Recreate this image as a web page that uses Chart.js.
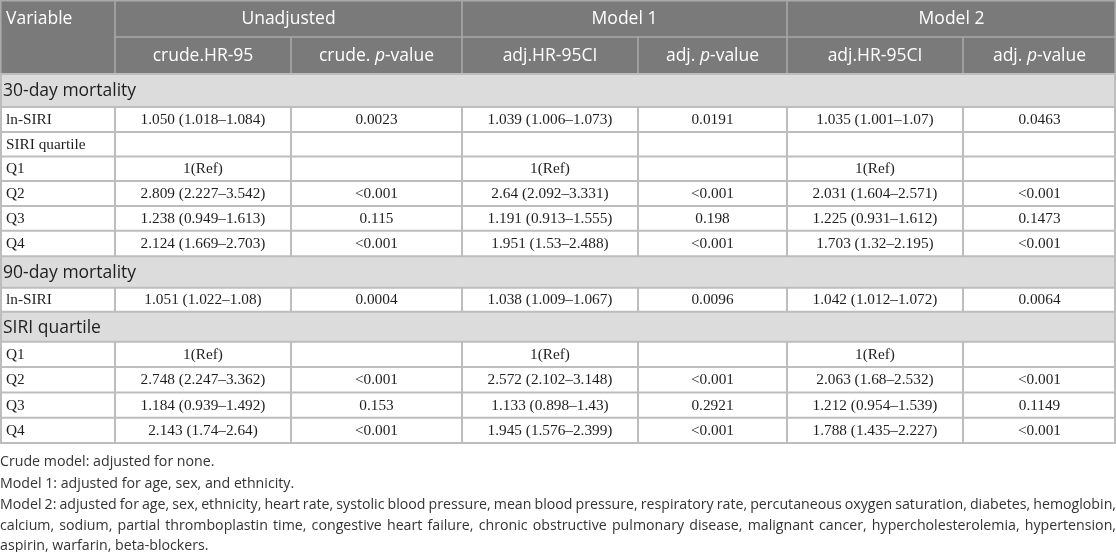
<!DOCTYPE html>
<html>
<head>
<meta charset="utf-8">
<script src="https://cdn.jsdelivr.net/npm/chart.js@4.4.1/dist/chart.umd.min.js"></script>
<style>
  html, body { margin: 0; padding: 0; background: #ffffff; }
  #wrap { width: 1116px; height: 552px; position: relative; }
</style>
</head>
<body>
<div id="wrap"><canvas id="tableChart"></canvas></div>
<script>
// table content
const groupHeaders = ['Unadjusted', 'Model 1', 'Model 2'];
const subHeaders = [
  [{ t: 'crude.HR-95' }],
  [{ t: 'crude. ' }, { t: 'p', i: true }, { t: '-value' }],
  [{ t: 'adj.HR-95CI' }],
  [{ t: 'adj. ' }, { t: 'p', i: true }, { t: '-value' }],
  [{ t: 'adj.HR-95CI' }],
  [{ t: 'adj. ' }, { t: 'p', i: true }, { t: '-value' }]
];
const rowLabels = ['30-day mortality', 'ln-SIRI', 'SIRI quartile', 'Q1', 'Q2', 'Q3', 'Q4',
  '90-day mortality', 'ln-SIRI', 'SIRI quartile', 'Q1', 'Q2', 'Q3', 'Q4'];
const sectionRows = [0, 7, 9];
const crudeHR = [null, '1.050 (1.018–1.084)', '', '1(Ref)', '2.809 (2.227–3.542)', '1.238 (0.949–1.613)', '2.124 (1.669–2.703)',
  null, '1.051 (1.022–1.08)', null, '1(Ref)', '2.748 (2.247–3.362)', '1.184 (0.939–1.492)', '2.143 (1.74–2.64)'];
const crudeP = [null, '0.0023', '', '', '<0.001', '0.115', '<0.001',
  null, '0.0004', null, '', '<0.001', '0.153', '<0.001'];
const model1HR = [null, '1.039 (1.006–1.073)', '', '1(Ref)', '2.64 (2.092–3.331)', '1.191 (0.913–1.555)', '1.951 (1.53–2.488)',
  null, '1.038 (1.009–1.067)', null, '1(Ref)', '2.572 (2.102–3.148)', '1.133 (0.898–1.43)', '1.945 (1.576–2.399)'];
const model1P = [null, '0.0191', '', '', '<0.001', '0.198', '<0.001',
  null, '0.0096', null, '', '<0.001', '0.2921', '<0.001'];
const model2HR = [null, '1.035 (1.001–1.07)', '', '1(Ref)', '2.031 (1.604–2.571)', '1.225 (0.931–1.612)', '1.703 (1.32–2.195)',
  null, '1.042 (1.012–1.072)', null, '1(Ref)', '2.063 (1.68–2.532)', '1.212 (0.954–1.539)', '1.788 (1.435–2.227)'];
const model2P = [null, '0.0463', '', '', '<0.001', '0.1473', '<0.001',
  null, '0.0064', null, '', '<0.001', '0.1149', '<0.001'];
const footnotes = [
  'Crude model: adjusted for none.',
  'Model 1: adjusted for age, sex, and ethnicity.',
  'Model 2: adjusted for age, sex, ethnicity, heart rate, systolic blood pressure, mean blood pressure, respiratory rate, percutaneous oxygen saturation, diabetes, hemoglobin,',
  'calcium, sodium, partial thromboplastin time, congestive heart failure, chronic obstructive pulmonary disease, malignant cancer, hypercholesterolemia, hypertension,',
  'aspirin, warfarin, beta-blockers.'
];
const justifiedNotes = [2, 3];

// layout (pixel units of the hidden scales)
const colEdges = [0, 115, 291, 462, 638, 787, 963, 1116];
const headerH = 37;
const rowHeights = [33, 25, 24.5, 24.5, 25, 24.7, 25.5, 31.6, 24, 30, 25.3, 25.3, 25.3, 25.3];
const noteY = [462, 483.5, 505, 526, 546];

const SANS = '"Open Sans", "Noto Sans", sans-serif';
const SERIF = '"Liberation Serif", "Times New Roman", serif';

function drawRich(ctx, segs, cx, cy, size, color) {
  ctx.fillStyle = color;
  ctx.textBaseline = 'middle';
  ctx.textAlign = 'left';
  let w = 0;
  segs.forEach(s => {
    ctx.font = (s.i ? 'italic ' : '') + size + 'px ' + SANS;
    w += ctx.measureText(s.t).width;
  });
  let xx = cx - w / 2;
  segs.forEach(s => {
    ctx.font = (s.i ? 'italic ' : '') + size + 'px ' + SANS;
    ctx.fillText(s.t, xx, cy);
    xx += ctx.measureText(s.t).width;
  });
}

function drawJustified(ctx, text, x0, x1, y) {
  const words = text.split(' ');
  const widths = words.map(w => ctx.measureText(w).width);
  const total = widths.reduce((a, b) => a + b, 0);
  const minGap = ctx.measureText(' ').width * 0.8;
  const gap = Math.max(minGap, (x1 - x0 - total) / (words.length - 1));
  let xx = x0;
  words.forEach((w, k) => {
    ctx.fillText(w, xx, y);
    xx += widths[k] + gap;
  });
}

const tablePlugin = {
  id: 'tablePlugin',
  afterDraw(chart) {
    const { ctx, scales: { x, y } } = chart;
    const px = v => x.getPixelForValue(v);
    const py = v => y.getPixelForValue(v);
    const valueCols = [crudeHR, crudeP, model1HR, model1P, model2HR, model2P];

    // row edges
    const rowTops = [];
    let yy = headerH * 2;
    rowLabels.forEach((_, r) => {
      rowTops.push(yy);
      yy += rowHeights[r];
    });
    const tableBottom = yy;

    ctx.save();
    // header background
    ctx.fillStyle = '#7a7a7a';
    ctx.fillRect(px(0), py(0), px(1116) - px(0), py(headerH * 2) - py(0));
    // section backgrounds
    ctx.fillStyle = '#dcdcdc';
    sectionRows.forEach(r => {
      ctx.fillRect(px(0), py(rowTops[r]), px(1116) - px(0), py(rowTops[r] + rowHeights[r]) - py(rowTops[r]));
    });

    const line = (x0, y0, x1, y1) => {
      ctx.beginPath();
      ctx.moveTo(px(x0), py(y0));
      ctx.lineTo(px(x1), py(y1));
      ctx.stroke();
    };
    // header lines
    ctx.strokeStyle = '#a9a9a9';
    ctx.lineWidth = 1.6;
    line(0, 0.8, 1116, 0.8);
    line(colEdges[1], headerH, 1116, headerH);
    [1, 3, 5].forEach(c => line(colEdges[c], 0, colEdges[c], headerH * 2));
    [2, 4, 6].forEach(c => line(colEdges[c], headerH, colEdges[c], headerH * 2));
    line(0.8, 0, 0.8, headerH * 2);
    line(1115.2, 0, 1115.2, headerH * 2);

    // body lines
    ctx.strokeStyle = '#bdbdbd';
    ctx.lineWidth = 2;
    rowTops.forEach(t => line(0, t, 1116, t));
    line(0, tableBottom, 1116, tableBottom);
    rowLabels.forEach((_, r) => {
      const t = rowTops[r];
      const b = t + rowHeights[r];
      if (sectionRows.includes(r)) {
        line(1, t, 1, b);
        line(1115, t, 1115, b);
      } else {
        colEdges.forEach((c, k) => {
          const cxl = k === 0 ? 1 : (k === colEdges.length - 1 ? 1115 : c);
          line(cxl, t, cxl, b);
        });
      }
    });

    // header text
    ctx.fillStyle = '#ffffff';
    ctx.textBaseline = 'middle';
    ctx.textAlign = 'left';
    ctx.font = '17.5px ' + SANS;
    ctx.fillText('Variable', px(6), py(headerH / 2 + 0.5));
    ctx.textAlign = 'center';
    groupHeaders.forEach((g, k) => {
      const c0 = colEdges[1 + k * 2], c1 = colEdges[3 + k * 2];
      ctx.fillText(g, px((c0 + c1) / 2), py(headerH / 2 + 0.5));
    });
    subHeaders.forEach((segs, k) => {
      const cxm = (colEdges[k + 1] + colEdges[k + 2]) / 2;
      drawRich(ctx, segs, px(cxm), py(headerH * 1.5 + 0.5), 17.5, '#ffffff');
    });

    // body text
    rowLabels.forEach((lab, r) => {
      const t = rowTops[r];
      const h = rowHeights[r];
      if (sectionRows.includes(r)) {
        ctx.fillStyle = '#1e1e1e';
        ctx.font = '17.5px ' + SANS;
        ctx.textAlign = 'left';
        ctx.fillText(lab, px(3), py(t + h / 2 + 1));
        return;
      }
      const cy = py(t + h / 2 + 0.5);
      ctx.fillStyle = '#1e1e1e';
      ctx.font = '15.3px ' + SERIF;
      ctx.textAlign = 'left';
      ctx.fillText(lab, px(6), cy);
      ctx.textAlign = 'center';
      valueCols.forEach((col, k) => {
        const v = col[r];
        if (v) ctx.fillText(v, px((colEdges[k + 1] + colEdges[k + 2]) / 2), cy);
      });
    });

    // footnotes
    ctx.fillStyle = '#333333';
    ctx.font = '14.2px ' + SANS;
    ctx.textAlign = 'left';
    footnotes.forEach((n, k) => {
      if (justifiedNotes.includes(k)) drawJustified(ctx, n, px(0), px(1116), py(noteY[k]));
      else ctx.fillText(n, px(0), py(noteY[k]));
    });
    ctx.restore();
  }
};

new Chart(document.getElementById('tableChart'), {
  type: 'scatter',
  data: { datasets: [{ data: [] }] },
  options: {
    responsive: true,
    maintainAspectRatio: false,
    animation: false,
    layout: { padding: 0 },
    scales: {
      x: { type: 'linear', min: 0, max: 1116, display: false },
      y: { type: 'linear', min: 0, max: 552, reverse: true, display: false }
    },
    plugins: { legend: { display: false }, tooltip: { enabled: false } }
  },
  plugins: [tablePlugin]
});
</script>
</body>
</html>
